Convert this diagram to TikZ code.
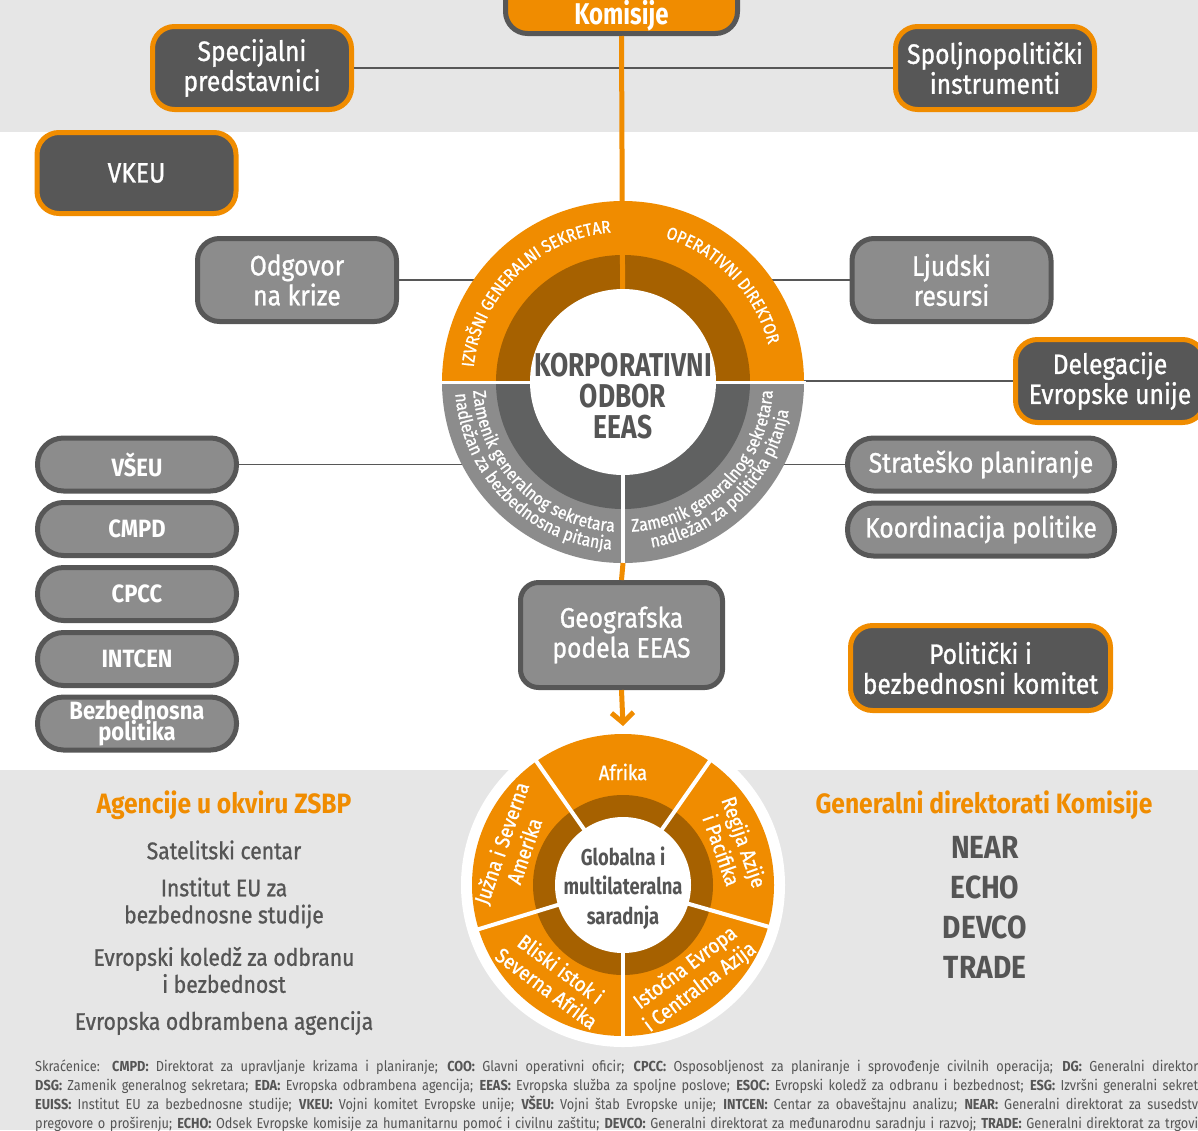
\documentclass[tikz,border=0pt]{standalone}
\usepackage{fontspec}
\setmainfont{Fira Sans}[FakeStretch=0.88]
\newfontfamily\medfont{Fira Sans}[FakeStretch=0.88, FakeBold=1]
\newfontfamily\condfont{Fira Sans}[FakeStretch=0.8]
\usetikzlibrary{arrows.meta,decorations.text}
\definecolor{eorange}{HTML}{F08C00}
\definecolor{edarkor}{HTML}{A66100}
\definecolor{edark}{HTML}{575757}
\definecolor{emid}{HTML}{8C8C8C}
\definecolor{ering}{HTML}{606161}
\definecolor{eband}{HTML}{E6E6E6}
\definecolor{etext}{HTML}{555555}
\newcommand\ringfont{\medfont\fontsize{17.5}{19}\selectfont\color{white}}
\newcommand\lowfont{\medfont\fontsize{18}{20}\selectfont\color{white}}
\tikzset{
  darkbox/.style={draw=eorange, fill=edark, line width=5pt, rounded corners=22pt,
    text=white, align=center, inner sep=0pt, minimum width=199pt, minimum height=83pt,
    font=\medfont\fontsize{28}{30}\selectfont},
  midbox/.style={darkbox, draw=edark, fill=emid},
  pill/.style={midbox, rounded corners=26pt, minimum height=53pt,
    font=\bfseries\fontsize{25}{21}\selectfont},
  link/.style={draw=edark, line width=1.5pt},
  trunk/.style={draw=eorange, line width=5pt},
  seg/.style={text=white, align=center, inner sep=0pt, font=\medfont\fontsize{21}{24}\selectfont},
  listhead/.style={text=eorange, font=\bfseries\fontsize{28}{30}\selectfont},
  listitem/.style={text=etext, align=center, font=\medfont\fontsize{24}{27}\selectfont},
  dglist/.style={text=etext, font=\bfseries\fontsize{32}{36}\selectfont},
  footline/.style={text=etext, anchor=base west, inner sep=0pt, font=\fontsize{14.5}{19}\selectfont},
}
\begin{document}
\begin{tikzpicture}[x=1pt, y=1pt]
    \useasboundingbox (0,0) rectangle (1198,-1130);
    \fill[eband] (0,0) rectangle (1198,-132);
    \fill[eband] (0,-770) rectangle (1198,-1130);
    \coordinate (odborc) at (623,-382);
    \coordinate (globc) at (623,-885);
    \coordinate (ringbot) at (623,-563);
    \coordinate (arrowtip) at (623,-726);
    \fill[white] (globc) circle (162);

    % top row
    \node[darkbox, draw=edark, fill=eorange, minimum width=232pt, minimum height=80pt] (komisije) at (621.5,6.5) {};
    \node[text=white, anchor=base, font=\condfont\bfseries\fontsize{30}{32}\selectfont] (komtext) at (621.5,-24) {Komisije};
    \node[darkbox] (spec) at (252,-68) {Specijalni\\predstavnici};
    \node[darkbox] (spolj) at (995,-68) {Spoljnopolitički\\instrumenti};
    \node[darkbox, minimum height=81pt] (vkeu) at (136.5,-173) {VKEU};

    % boxes round the board
    \node[midbox] (odgovor) at (297,-280) {Odgovor\\na krize};
    \node[midbox] (ljudski) at (951.5,-280) {Ljudski\\resursi};
    \node[darkbox, minimum width=189pt] (deleg) at (1110,-381) {Delegacije\\Evropske unije};
    \foreach \name/\txt/\y in {vseu/VŠEU/-464.5, cmpd/CMPD/-529, cpcc/CPCC/-594,
        intcen/INTCEN/-659, bezb/{Bezbednosna\\politika}/-723.5}
      \node[pill] (\name) at (137,\y) {\txt};
    \node[pill, minimum width=267pt, font=\medfont\fontsize{28}{30}\selectfont] (strat) at (981,-464.5) {Strateško planiranje};
    \node[pill, minimum width=267pt, font=\medfont\fontsize{28}{30}\selectfont] (koord) at (981,-529.5) {Koordinacija politike};
    \node[darkbox, minimum width=260pt, minimum height=85pt] (pbk) at (980.5,-668) {Politički i\\bezbednosni komitet};
    \node[midbox, minimum width=202pt, minimum height=105pt, rounded corners=18pt] (geo) at (621.5,-635) {Geografska\\podela EEAS};

    % thin links behind the board
    \draw[link] (spec) -- (spolj);
    \draw[link] (odgovor) -- (ljudski);
    \draw[link] (vseu) -- (strat);
    \draw[link] (deleg.west) -- (deleg.west -| odborc);

    % corporate board
    \fill[eorange] (odborc) -- ++(0:181) arc[start angle=0, end angle=180, radius=181] -- cycle;
    \fill[emid] (odborc) -- ++(180:181) arc[start angle=180, end angle=360, radius=181] -- cycle;
    \fill[edarkor] (odborc) -- ++(0:127) arc[start angle=0, end angle=180, radius=127] -- cycle;
    \fill[ering] (odborc) -- ++(180:127) arc[start angle=180, end angle=360, radius=127] -- cycle;
    \draw[trunk] (komisije.south) -- (odborc);
    \fill[white] (odborc) circle (93);
    \draw[white, line width=3pt] ([xshift=-183pt]odborc) -- ([xshift=183pt]odborc);
    \draw[white, line width=4pt] (odborc) -- (ringbot);
    \node[text=etext, align=center, font=\condfont\bfseries\fontsize{33}{31}\selectfont] (odbor) at (623,-396) {KORPORATIVNI\\ODBOR\\EEAS};
    \path[decorate, decoration={text along path, text align=center,
        text={|\ringfont|IZVRŠNI GENERALNI SEKRETAR}}]
      ([shift={(179:150)}]odborc) arc[start angle=179, end angle=90, radius=150];
    \path[decorate, decoration={text along path, text align=center,
        text={|\ringfont|OPERATIVNI DIREKTOR}}]
      ([shift={(86:150)}]odborc) arc[start angle=86, end angle=2, radius=150];
    \path[decorate, decoration={text along path, text align=center,
        text={|\lowfont|Zamenik generalnog sekretara}}]
      ([shift={(180:150)}]odborc) arc[start angle=180, end angle=270, radius=150];
    \path[decorate, decoration={text along path, text align=center,
        text={|\lowfont|nadležan za bezbednosna pitanja}}]
      ([shift={(180:168)}]odborc) arc[start angle=180, end angle=270, radius=168];
    \path[decorate, decoration={text along path, text align=center,
        text={|\lowfont|Zamenik generalnog sekretara}}]
      ([shift={(270:150)}]odborc) arc[start angle=270, end angle=360, radius=150];
    \path[decorate, decoration={text along path, text align=center,
        text={|\lowfont|nadležan za politička pitanja}}]
      ([shift={(270:168)}]odborc) arc[start angle=270, end angle=360, radius=168];

    \draw[trunk] (ringbot) -- (geo.north);
    \draw[trunk, -{Straight Barb[length=10pt, width=22pt]}] (geo.south) -- (arrowtip);

    % geographic wheel
    \fill[eorange] (globc) circle (151);
    \fill[edarkor] (globc) circle (90);
    \foreach \a in {55,125,197,270,344}
      \draw[white, line width=4pt] (globc) -- ++(\a:152);
    \fill[white] (globc) circle (68);
    \node[text=etext, align=center, font=\condfont\bfseries\fontsize{23}{29.5}\selectfont] (glob) at (623,-888) {Globalna i\\multilateralna\\saradnja};
    \node[seg] (afrika) at ([shift={(90:113)}]globc) {Afrika};
    \node[seg, rotate=-70.5] (azija) at ([shift={(19.5:117)}]globc) {Regija Azije\\i Pacifika};
    \node[seg, rotate=37] (istok) at ([shift={(307:116)}]globc) {Istočna Evropa\\i Centralna Azija};
    \node[seg, rotate=-36.5] (bliski) at ([shift={(233.5:116)}]globc) {Bliski istok i\\Severna Afrika};
    \node[seg, rotate=71] (amerika) at ([shift={(161:117)}]globc) {Južna i Severna\\Amerika};

    % lists
    \node[listhead] (agencije) at (224,-805) {Agencije u okviru ZSBP};
    \node[listitem] (satelit) at (224,-850) {Satelitski centar};
    \node[listitem] (euiss) at (224,-903) {Institut EU za\\bezbednosne studije};
    \node[listitem] (esoc) at (224,-970) {Evropski koledž za odbranu\\i bezbednost};
    \node[listitem] (eda) at (224,-1023) {Evropska odbrambena agencija};
    \node[listhead] (dgk) at (984,-805) {Generalni direktorati Komisije};
    \foreach \name/\txt/\y in {near/NEAR/-847, echo/ECHO/-887, devco/DEVCO/-927, trade/TRADE/-967}
      \node[dglist] (\name) at (985,\y) {\txt};

    % footnote
    \node[footline] (foot1) at (35,-1071) {\hbox to 1163pt{Skraćenice: \textbf{CMPD:} Direktorat za upravljanje krizama i planiranje; \textbf{COO:} Glavni operativni oficir; \textbf{CPCC:} Osposobljenost za planiranje i sprovođenje civilnih operacija; \textbf{DG:} Generalni direktor}};
    \node[footline] (foot2) at (35,-1090) {\hbox to 1163pt{\textbf{DSG:} Zamenik generalnog sekretara; \textbf{EDA:} Evropska odbrambena agencija; \textbf{EEAS:} Evropska služba za spoljne poslove; \textbf{ESOC:} Evropski koledž za odbranu i bezbednost; \textbf{ESG:} Izvršni generalni sekret}};
    \node[footline] (foot3) at (35,-1109) {\hbox to 1163pt{\textbf{EUISS:} Institut EU za bezbednosne studije; \textbf{VKEU:} Vojni komitet Evropske unije; \textbf{VŠEU:} Vojni štab Evropske unije; \textbf{INTCEN:} Centar za obaveštajnu analizu; \textbf{NEAR:} Generalni direktorat za susedstv}};
    \node[footline] (foot4) at (35,-1128) {\hbox to 1163pt{pregovore o proširenju; \textbf{ECHO:} Odsek Evropske komisije za humanitarnu pomoć i civilnu zaštitu; \textbf{DEVCO:} Generalni direktorat za međunarodnu saradnju i razvoj; \textbf{TRADE:} Generalni direktorat za trgovi}};
\end{tikzpicture}
\end{document}
